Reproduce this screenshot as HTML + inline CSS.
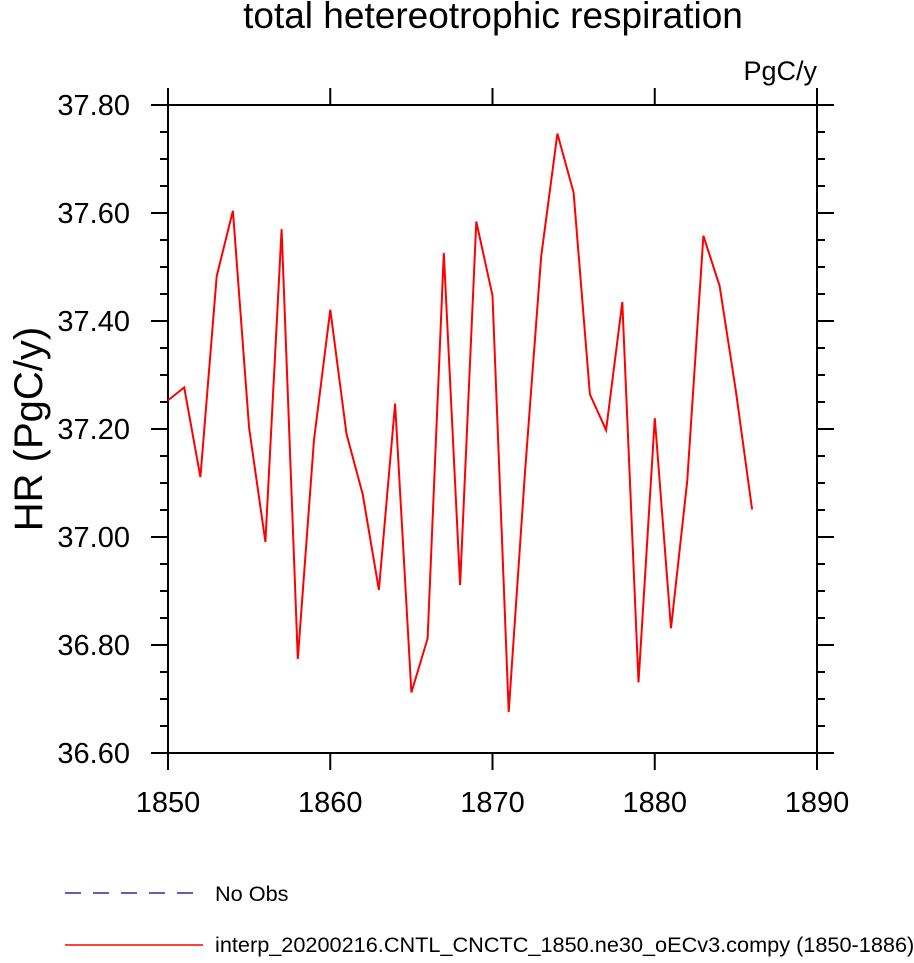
<!DOCTYPE html>
<html><head><meta charset="utf-8"><style>
body{margin:0;background:#fff;}
svg text{font-family:"Liberation Sans",Arial,sans-serif;fill:#000;}
</style></head><body>
<svg id="chart" width="914" height="958" xmlns="http://www.w3.org/2000/svg">
<text x="493" y="28" font-size="37" text-anchor="middle">total hetereotrophic respiration</text>
<text x="817" y="80" font-size="27" text-anchor="end">PgC/y</text>
<text transform="translate(42,429) rotate(-90)" font-size="40" text-anchor="middle">HR  (PgC/y)</text>
<g id="axes"></g>
<g id="series"></g>
<g>
<line x1="65" y1="893" x2="203" y2="893" stroke="#000080" stroke-width="1.3" stroke-dasharray="16,12"/>
<text x="215" y="901" font-size="21.7">No Obs</text>
<line x1="65" y1="945" x2="203" y2="945" stroke="#ff0000" stroke-width="1.5"/>
<text x="215" y="952" font-size="21.7">interp_20200216.CNTL_CNCTC_1850.ne30_oECv3.compy (1850-1886)</text>
</g>
</svg>
<script>
const years = [1850,1851,1852,1853,1854,1855,1856,1857,1858,1859,1860,1861,1862,1863,1864,1865,1866,1867,1868,1869,1870,1871,1872,1873,1874,1875,1876,1877,1878,1879,1880,1881,1882,1883,1884,1885,1886];
const hrValues = [37.253,37.277,37.111,37.483,37.604,37.202,36.991,37.570,36.774,37.180,37.421,37.191,37.079,36.902,37.247,36.712,36.812,37.526,36.911,37.584,37.447,36.676,37.120,37.520,37.747,37.638,37.264,37.198,37.435,36.731,37.220,36.831,37.103,37.558,37.465,37.270,37.051];
const yTickLabels = ["36.60","36.80","37.00","37.20","37.40","37.60","37.80"];
const xTickLabels = ["1850","1860","1870","1880","1890"];
const X0=168,X1=817,Y0=753,Y1=105;
const xMin=1850,xMax=1890,yMin=36.6,yMax=37.8;
const sx=v=>X0+(v-xMin)/(xMax-xMin)*(X1-X0);
const sy=v=>Y0-(v-yMin)/(yMax-yMin)*(Y0-Y1);
const NS="http://www.w3.org/2000/svg";
const axes=document.getElementById('axes');
function mk(tag,attrs,parent){const e=document.createElementNS(NS,tag);for(const k in attrs)e.setAttribute(k,attrs[k]);parent.appendChild(e);return e;}
const frame=mk('rect',{x:X0,y:Y1,width:X1-X0,height:Y0-Y1,fill:'none',stroke:'#000','stroke-width':2},axes);


for(let v=yMin;v<=yMax+1e-9;v+=0.05){
  const y=sy(v);const major=Math.abs(Math.round(v*10)/10-v)<1e-6&&Math.round(v*10)%2===0;
  const L=major?17:8;
  const t1=mk('line',{x1:X0-L,y1:y,x2:X0,y2:y,stroke:'#000','stroke-width':2},axes);
  
  
  const t2=mk('line',{x1:X1,y1:y,x2:X1+L,y2:y,stroke:'#000','stroke-width':2},axes);
  
  
}
yTickLabels.forEach(l=>{
  const t=mk('text',{x:X0-38,y:sy(parseFloat(l))+10,'font-size':29,'text-anchor':'end'},axes);
  t.textContent=l;
  
  
});
xTickLabels.forEach(l=>{
  const x=sx(parseFloat(l));
  const b=mk('line',{x1:x,y1:Y0,x2:x,y2:Y0+17,stroke:'#000','stroke-width':2},axes);
  
  
  const tp=mk('line',{x1:x,y1:Y1-17,x2:x,y2:Y1,stroke:'#000','stroke-width':2},axes);
  
  
  const t=mk('text',{x:x,y:Y0+59,'font-size':29,'text-anchor':'middle'},axes);
  t.textContent=l;
  
  
});
const pts=years.map((y,i)=>sx(y).toFixed(1)+','+sy(hrValues[i]).toFixed(1)).join(' ');
const line=mk('polyline',{points:pts,fill:'none',stroke:'#ff0000','stroke-width':2},document.getElementById('series'));


</script>
</body></html>
